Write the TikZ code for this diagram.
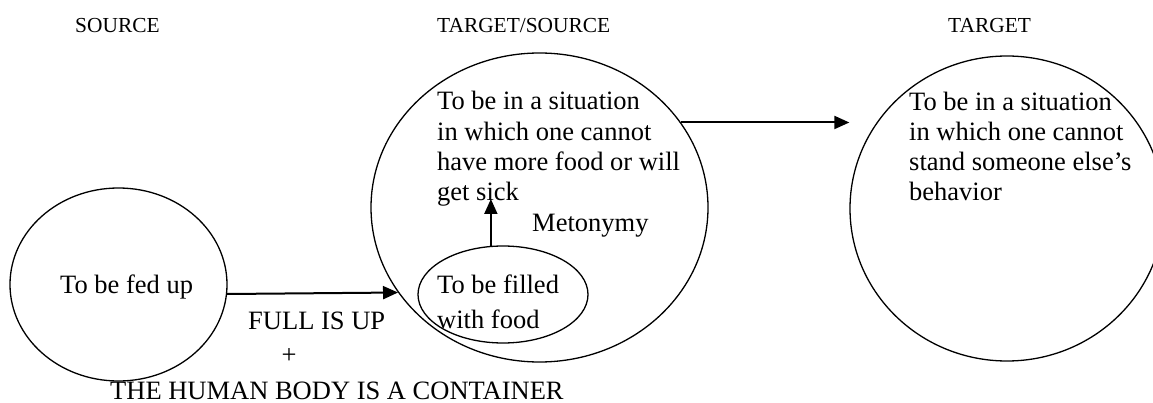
\documentclass[tikz,border=0pt]{standalone}
\usepackage{fontspec}
\setmainfont{Liberation Serif}
\usetikzlibrary{shapes.geometric,arrows.meta}
\tikzset{
  frame/.style={draw, ellipse, line width=1.3pt, inner sep=0pt},
  arr/.style={line width=2pt, -{Triangle[length=15pt,width=13pt]}},
  head/.style={anchor=base west, inner sep=0pt, font=\fontsize{21.4}{25}\selectfont},
  body/.style={anchor=base west, inner sep=0pt, align=left, font=\fontsize{26.5}{30.3}\selectfont},
}
\begin{document}
\begin{tikzpicture}[x=1pt,y=-1pt]
\useasboundingbox (0,0) rectangle (1153,403);
% ellipses
\node[frame, minimum width=217pt, minimum height=193pt] (e1) at (118.5,284.5) {};
\node[frame, minimum width=337pt, minimum height=309pt] (e2) at (539.5,207.5) {};
\node[frame, minimum width=170pt, minimum height=97pt] (inner) at (503,294.5) {};
\node[frame, minimum width=314pt, minimum height=305pt] (e3) at (1007,208.5) {};
% headings
\node[head] (h1) at (75,33) {SOURCE};
\node[head] (h2) at (437,33) {TARGET/SOURCE};
\node[head] (h3) at (948,33) {TARGET};
% texts (multi-line nodes: base = last line)
\node[body] (t1) at (60,293) {To be fed up};
\node[body] (t2) at (437,200.7) {To be in a situation\\in which one cannot\\have more food or will\\get sick};
\node[body, font=\fontsize{26.5}{35}\selectfont] (t3) at (437,328.3) {To be filled\\with food};
\node[body] (t4) at (909,201) {To be in a situation\\in which one cannot\\stand someone else’s\\behavior};
\node[body] (met) at (532,231.7) {Metonymy};
\node[body] (full) at (248,329) {FULL IS UP};
\node[body, anchor=base] (plus) at (289,363) {+};
\node[body] (hb) at (110,399.5) {THE HUMAN BODY IS A CONTAINER};
% connectors
\draw[arr] (e1.-5) -- (e2.211.8);
\draw[arr] (e2.31.8) -- (e3.west |- e2.31.8);
\coordinate (mtip) at (491,199);
\draw[arr] (inner.104) -- (inner.104 |- mtip);
\end{tikzpicture}
\end{document}
